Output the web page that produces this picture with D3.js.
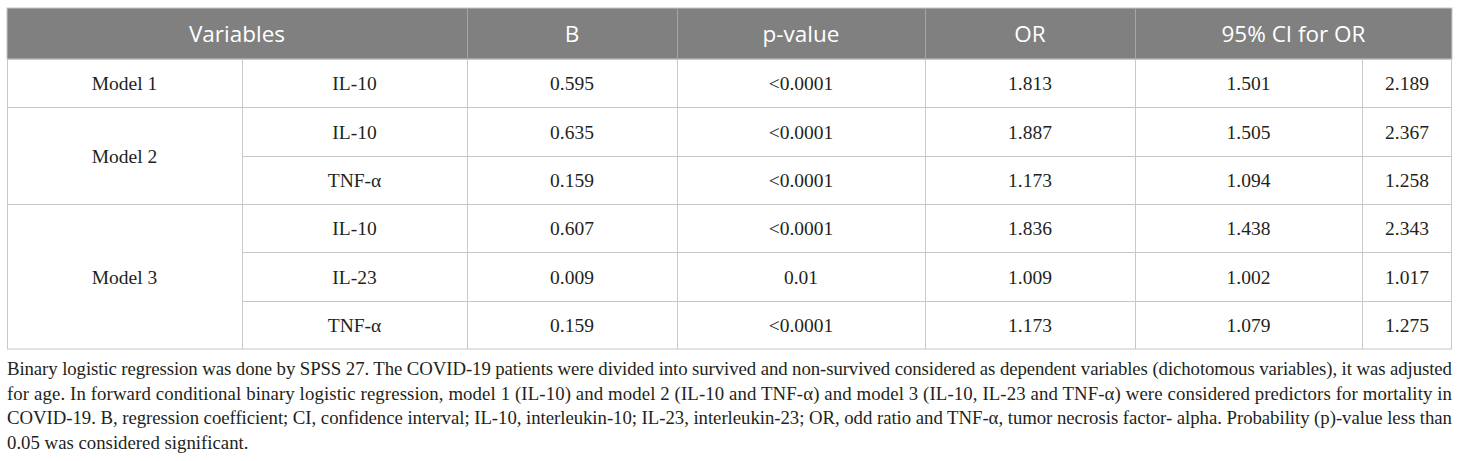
<!DOCTYPE html>
<html lang="en">
<head>
    <meta charset="UTF-8">
    <title>Binary logistic regression table</title>
    <script src="https://d3js.org/d3.v7.min.js"></script>
    <style>
        body { margin: 0; background: #fff; }
        .cell { font-family: "Liberation Serif", "Times New Roman", serif; font-size: 19.5px; fill: #231f20; }
        .head { font-family: "Open Sans", "Noto Sans", sans-serif; font-size: 22.5px; fill: #fff; }
        .caption { font-family: "Liberation Serif", "Times New Roman", serif; font-size: 18.8px; fill: #231f20; }
    </style>
</head>
<body>
    <div id="chart-container"></div>

    <script>
        // table contents
        const headers = ["Variables", "B", "p-value", "OR", "95% CI for OR"];
        const models = ["Model 1", "Model 2", "Model 3"];
        const modelRows = [1, 2, 3]; // how many variable rows per model
        const variables = ["IL-10", "IL-10", "TNF-α", "IL-10", "IL-23", "TNF-α"];
        const bValues = ["0.595", "0.635", "0.159", "0.607", "0.009", "0.159"];
        const pValues = ["<0.0001", "<0.0001", "<0.0001", "<0.0001", "0.01", "<0.0001"];
        const orValues = ["1.813", "1.887", "1.173", "1.836", "1.009", "1.173"];
        const ciLow = ["1.501", "1.505", "1.094", "1.438", "1.002", "1.079"];
        const ciHigh = ["2.189", "2.367", "1.258", "2.343", "1.017", "1.275"];

        const captionLines = [
            "Binary logistic regression was done by SPSS 27. The COVID-19 patients were divided into survived and non-survived considered as dependent variables (dichotomous variables), it was adjusted",
            "for age. In forward conditional binary logistic regression, model 1 (IL-10) and model 2 (IL-10 and TNF-α) and model 3 (IL-10, IL-23 and TNF-α) were considered predictors for mortality in",
            "COVID-19. B, regression coefficient; CI, confidence interval; IL-10, interleukin-10; IL-23, interleukin-23; OR, odd ratio and TNF-α, tumor necrosis factor- alpha. Probability (p)-value less than",
            "0.05 was considered significant."
        ];

        const W = 1460, H = 461;
        const left = 7, right = 1452;
        const headTop = 8, headBottom = 59, tableBottom = 349;
        // column edges: model | variable | B | p | OR | CI low | CI high
        const edges = [left, 242, 467, 677, 925, 1135, 1362, right];
        const headerSpans = [[0, 2], [2, 3], [3, 4], [4, 5], [5, 7]];

        const svg = d3.select("#chart-container")
            .append("svg")
            .attr("width", W)
            .attr("height", H);

        const rowIdx = d3.range(variables.length);
        const y = d3.scaleBand()
            .domain(rowIdx)
            .range([headBottom, tableBottom]);

        // header band
        svg.append("rect")
            .attr("x", left)
            .attr("y", headTop)
            .attr("width", right - left)
            .attr("height", headBottom - headTop)
            .attr("fill", "#808080")
            .attr("stroke", "#c8c8c8");

        svg.selectAll(".hsep")
            .data(headerSpans.slice(1))
            .enter()
            .append("line")
            .attr("x1", d => edges[d[0]] + 0.5)
            .attr("x2", d => edges[d[0]] + 0.5)
            .attr("y1", headTop)
            .attr("y2", headBottom)
            .attr("stroke", "#a6a6a6");

        svg.selectAll(".head")
            .data(headers)
            .enter()
            .append("text")
            .attr("class", "head")
            .attr("x", (d, i) => (edges[headerSpans[i][0]] + edges[headerSpans[i][1]]) / 2)
            .attr("y", (headTop + headBottom) / 2)
            .attr("dy", "0.36em")
            .attr("text-anchor", "middle")
            .text(d => d);

        // body grid
        const grid = svg.append("g").attr("stroke", "#c8c8c8").attr("fill", "none");
        grid.append("rect")
            .attr("x", left + 0.5)
            .attr("y", headBottom + 0.5)
            .attr("width", right - left - 1)
            .attr("height", tableBottom - headBottom - 0.5);

        // vertical lines in body
        grid.selectAll(".vline")
            .data(edges.slice(1, -1))
            .enter()
            .append("line")
            .attr("x1", d => d + 0.5)
            .attr("x2", d => d + 0.5)
            .attr("y1", headBottom)
            .attr("y2", tableBottom);

        // model block starts
        const starts = modelRows.map((n, i) => d3.sum(modelRows.slice(0, i)));

        // horizontal lines: full width at model boundaries, partial inside a model
        rowIdx.slice(1).forEach(function(r) {
            const full = starts.includes(r);
            grid.append("line")
                .attr("x1", full ? left : edges[1])
                .attr("x2", right)
                .attr("y1", Math.round(y(r)) + 0.5)
                .attr("y2", Math.round(y(r)) + 0.5);
        });

        // model labels
        svg.selectAll(".model")
            .data(models)
            .enter()
            .append("text")
            .attr("class", "cell")
            .attr("x", (edges[0] + edges[1]) / 2)
            .attr("y", (d, i) => (y(starts[i]) + y(starts[i] + modelRows[i] - 1) + y.bandwidth()) / 2)
            .attr("dy", "0.36em")
            .attr("text-anchor", "middle")
            .text(d => d);

        // value columns
        const cols = [variables, bValues, pValues, orValues, ciLow, ciHigh];
        cols.forEach(function(col, c) {
            svg.selectAll(".c" + c)
                .data(col)
                .enter()
                .append("text")
                .attr("class", "cell c" + c)
                .attr("x", (edges[c + 1] + edges[c + 2]) / 2)
                .attr("y", (d, i) => y(i) + y.bandwidth() / 2)
                .attr("dy", "0.36em")
                .attr("text-anchor", "middle")
                .text(d => d);
        });

        // caption, justified like the source
        svg.selectAll(".caption")
            .data(captionLines)
            .enter()
            .append("text")
            .attr("class", "caption")
            .attr("x", left)
            .attr("y", (d, i) => 375 + i * 24.5)
            .text(d => d)
            .each(function(d, i) {
                if (i < captionLines.length - 1) {
                    d3.select(this)
                        .attr("textLength", right - left)
                        .attr("lengthAdjust", "spacing");
                }
            });
    </script>
</body>
</html>
